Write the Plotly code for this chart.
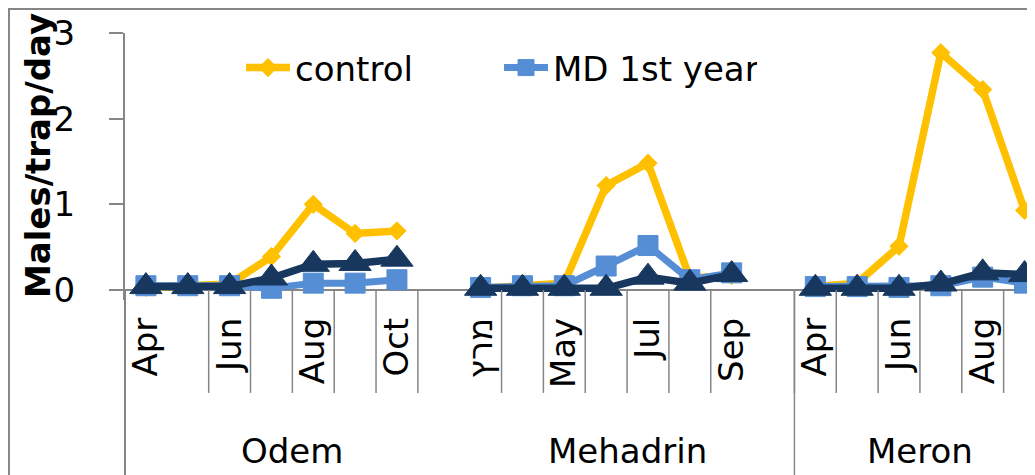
import plotly.graph_objects as go

# ---------------- data ----------------
groups = ["Odem", "Mehadrin", "Meron"]
odem_months = ["Apr", "May", "Jun", "Jul", "Aug", "Sep", "Oct", ""]
mehadrin_months = ["מרץ", "Apr", "May", "Jun", "Jul", "Aug", "Sep", ""]
meron_months = ["Apr", "May", "Jun", "Jul", "Aug", "Sep"]

control_odem = [0.03, 0.06, 0.07, 0.39, 1.00, 0.66, 0.69]
control_mehadrin = [0.02, 0.05, 0.08, 1.22, 1.48, 0.14, 0.17]
control_meron = [0.04, 0.08, 0.51, 2.77, 2.34, 0.93]

md1_odem = [0.05, 0.05, 0.05, 0.02, 0.08, 0.08, 0.12]
md1_mehadrin = [0.03, 0.05, 0.05, 0.28, 0.52, 0.12, 0.20]
md1_meron = [0.04, 0.04, 0.03, 0.05, 0.15, 0.08]

md2_odem = [0.04, 0.04, 0.04, 0.14, 0.30, 0.31, 0.36]
md2_mehadrin = [0.02, 0.02, 0.02, 0.02, 0.15, 0.08, 0.18]
md2_meron = [0.02, 0.02, 0.02, 0.07, 0.20, 0.18]

y_ticks = [0, 1, 2, 3]
y_title = "Males/trap/day"

# ---------------- category positions ----------------
group_months = [odem_months, mehadrin_months, meron_months]
offsets = []
pos = 0
for m in group_months:
    offsets.append(pos)
    pos += len(m)
n_total = pos
cat_labels = [lab for m in group_months for lab in m]
cat_x = list(range(n_total))


def full_series(per_group):
    y = [None] * n_total
    for gi, vals in enumerate(per_group):
        for i, v in enumerate(vals):
            y[offsets[gi] + i] = v
    return y


GRAY = "#868686"
FONT = "DejaVu Sans"

series = [
    dict(name="control", data=[control_odem, control_mehadrin, control_meron],
         color="#FFC000", symbol="diamond", size=14, lw=7.5, legend=True),
    dict(name="MD 1st year", data=[md1_odem, md1_mehadrin, md1_meron],
         color="#558ED5", symbol="square", size=20, lw=7, legend=True),
    dict(name="MD 2nd year", data=[md2_odem, md2_mehadrin, md2_meron],
         color="#17375E", symbol="triangle-up", size=28, lw=7.5, legend=False),
]

fig = go.Figure()
for s in series:
    fig.add_trace(go.Scatter(
        x=cat_x, y=full_series(s["data"]), name=s["name"],
        mode="lines+markers", connectgaps=False, cliponaxis=False,
        line=dict(color=s["color"], width=s["lw"]),
        marker=dict(symbol=s["symbol"], size=s["size"], color=s["color"],
                    line=dict(width=1, color=s["color"])),
        showlegend=s["legend"],
    ))

# ---------------- axis decorations ----------------
shapes = []
hidden_after = [0, 7, 14]
for k in range(n_total - 1):
    if k in hidden_after:
        continue
    shapes.append(dict(type="line", xref="x", yref="paper", x0=k + 0.5, x1=k + 0.5,
                       y0=0.0375, y1=-0.348, line=dict(color=GRAY, width=1.5)))
# full-height group dividers
shapes.append(dict(type="line", xref="x domain", yref="paper", x0=0, x1=0,
                   y0=0.0375, y1=-0.7, line=dict(color=GRAY, width=2)))
shapes.append(dict(type="line", xref="x", yref="paper",
                   x0=offsets[2] - 0.5, x1=offsets[2] - 0.5,
                   y0=0.0375, y1=-0.7, line=dict(color=GRAY, width=1.5)))
# chart border
shapes.append(dict(type="rect", xref="paper", yref="paper", x0=-0.1275, x1=1.05,
                   y0=-0.7, y1=1.0899, line=dict(color=GRAY, width=2),
                   fillcolor="rgba(0,0,0,0)"))

annotations = []
for gi, g in enumerate(groups):
    annotations.append(dict(text=g, xref="x", yref="paper",
                            x=offsets[gi] + (len(group_months[gi]) - 1) / 2,
                            y=-0.5655, showarrow=False, yanchor="middle",
                            font=dict(family=FONT, size=34, color="black")))
annotations.append(dict(text="<b>" + y_title + "</b>", xref="paper", yref="paper",
                        x=-0.0956, y=0.539, textangle=-90, showarrow=False,
                        xanchor="center", yanchor="middle",
                        font=dict(family=FONT, size=34, color="black")))

fig.update_layout(
    width=1027, height=467,
    margin=dict(l=117, r=0, t=25, b=175, autoexpand=False),
    paper_bgcolor="white", plot_bgcolor="white",
    font=dict(family=FONT, size=34, color="black"),
    showlegend=True,
    legend=dict(orientation="h", x=0.1275, y=0.869, xanchor="left", yanchor="middle",
                bgcolor="rgba(0,0,0,0)", font=dict(family=FONT, size=34, color="black"),
                itemwidth=44, entrywidth=199, entrywidthmode="pixels"),
    shapes=shapes,
    annotations=annotations,
    xaxis=dict(range=[-0.5, 21.25], tickvals=cat_x[::2], ticktext=cat_labels[::2],
               tickangle=-90, showline=False, showgrid=False, zeroline=False,
               ticks="", ticklabelstandoff=10, automargin=False,
               tickfont=dict(family=FONT, size=34, color="black")),
    yaxis=dict(range=[-0.1167, 3], tickvals=y_ticks, showline=True, linecolor=GRAY,
               linewidth=2, ticks="outside", ticklen=14, tickwidth=2, tickcolor=GRAY,
               showgrid=False, zeroline=True, zerolinecolor=GRAY, zerolinewidth=2,
               ticklabelstandoff=27, automargin=False,
               tickfont=dict(family=FONT, size=34, color="black")),
)

fig.write_html("out.html")
